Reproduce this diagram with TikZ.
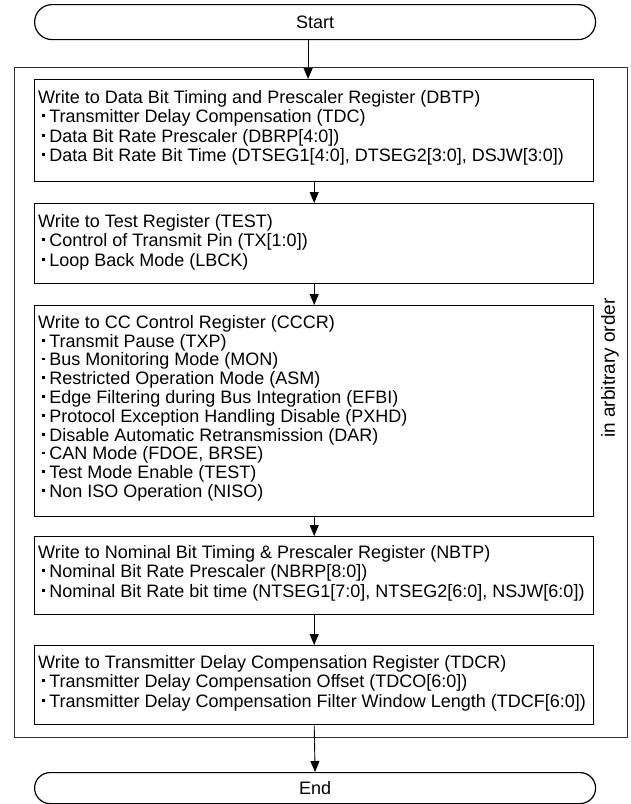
\documentclass[tikz,border=0pt]{standalone}
\usepackage{fontspec}
\setmainfont{Liberation Sans}
\usetikzlibrary{arrows.meta}
\newcommand{\bul}{\makebox[0.62em][c]{\rule[0.3em]{0.16em}{0.16em}}}
\begin{document}
\begin{tikzpicture}[x=1pt,y=-1pt,
  txt/.style={font=\fontsize{18}{19.5}\selectfont},
  box/.style={draw, line width=1.4pt, minimum width=559pt, anchor=north west, inner sep=0pt},
  boxtext/.style={txt, align=left, anchor=north west, inner sep=0pt},
  term/.style={draw, line width=1.2pt, minimum width=561pt, anchor=north west, inner sep=0pt, txt},
  frame/.style={draw=black!80, line width=0.8pt, anchor=north west, inner sep=0pt},
  arr/.style={-{Triangle[width=9pt,length=11pt]}, line width=0.9pt}]
\useasboundingbox (0,0) rectangle (631,804);

\node[term, minimum height=35pt, rounded corners=17.5pt] (start) at (34,4) {Start};
\node[frame, minimum width=613pt, minimum height=670pt] (frame) at (14,67) {};
\node[txt, font=\fontsize{19}{20}\selectfont, rotate=90] (order) at (610,368) {in arbitrary order};

\node[box, minimum height=102pt] (dbtp) at (34,79) {};
\node[boxtext] (dbtpT) at (38,90) {Write to Data Bit Timing and Prescaler Register (DBTP)\\
\bul Transmitter Delay Compensation (TDC)\\
\bul Data Bit Rate Prescaler (DBRP[4:0])\\
\bul Data Bit Rate Bit Time (DTSEG1[4:0], DTSEG2[3:0], DSJW[3:0])};

\node[box, minimum height=80pt] (test) at (34,203) {};
\node[boxtext] (testT) at (38,214) {Write to Test Register (TEST)\\
\bul Control of Transmit Pin (TX[1:0])\\
\bul Loop Back Mode (LBCK)};

\node[box, minimum height=211pt] (cccr) at (34,305) {};
\node[boxtext, font=\fontsize{18}{18.8}\selectfont] (cccrT) at (38,315) {Write to CC Control Register (CCCR)\\
\bul Transmit Pause (TXP)\\
\bul Bus Monitoring Mode (MON)\\
\bul Restricted Operation Mode (ASM)\\
\bul Edge Filtering during Bus Integration (EFBI)\\
\bul Protocol Exception Handling Disable (PXHD)\\
\bul Disable Automatic Retransmission (DAR)\\
\bul CAN Mode (FDOE, BRSE)\\
\bul Test Mode Enable (TEST)\\
\bul Non ISO Operation (NISO)};

\node[box, minimum height=78pt] (nbtp) at (34,536) {};
\node[boxtext] (nbtpT) at (38,545) {Write to Nominal Bit Timing \& Prescaler Register (NBTP)\\
\bul Nominal Bit Rate Prescaler (NBRP[8:0])\\
\bul Nominal Bit Rate bit time (NTSEG1[7:0], NTSEG2[6:0], NSJW[6:0])};

\node[box, minimum height=79pt] (tdcr) at (34,645) {};
\node[boxtext] (tdcrT) at (38,655) {Write to Transmitter Delay Compensation Register (TDCR)\\
\bul Transmitter Delay Compensation Offset (TDCO[6:0])\\
\bul Transmitter Delay Compensation Filter Window Length (TDCF[6:0])};

\node[term, minimum height=31pt, rounded corners=15.5pt] (end) at (34,772) {End};

\draw[arr] ([xshift=-7pt]start.south) -- ([xshift=-7pt]start.south |- dbtp.north);
\draw[arr] (dbtp.south) -- (test.north);
\draw[arr] (test.south) -- (cccr.north);
\draw[arr] (cccr.south) -- (nbtp.north);
\draw[arr] (nbtp.south) -- (tdcr.north);
\draw[arr] (tdcr.south) -- (end.north);
\end{tikzpicture}
\end{document}
